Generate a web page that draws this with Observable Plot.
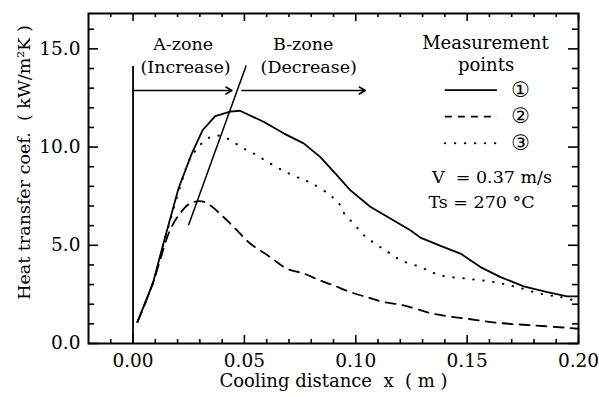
<!DOCTYPE html>
<html><head><meta charset="utf-8">
<script src="https://cdn.jsdelivr.net/npm/d3@7"></script>
<script src="https://cdn.jsdelivr.net/npm/@observablehq/plot@0.6"></script>
<style>body{margin:0;background:#fff} svg{display:block}</style>
</head><body><div id="chart"></div>
<script>
// Measurement point 1 (solid)
const p1x = [0.002,0.009,0.0136,0.0204,0.0264,0.0313,0.0369,0.0436,0.048,0.0586,0.0676,0.0766,0.084,0.0915,0.0975,0.1065,0.1155,0.1245,0.129,0.1395,0.147,0.156,0.165,0.1754,0.186,0.1949,0.2];
const p1y = [1.1,3.1,5.08,7.89,9.68,10.87,11.58,11.8,11.85,11.29,10.70,10.19,9.50,8.57,7.81,6.96,6.36,5.77,5.39,4.91,4.58,3.89,3.38,2.91,2.62,2.40,2.40];
// Measurement point 2 (dashed)
const p2x = [0.002,0.009,0.0121,0.0166,0.0211,0.0256,0.0309,0.0346,0.0406,0.0466,0.0526,0.0616,0.069,0.0766,0.084,0.090,0.0975,0.105,0.1125,0.1215,0.135,0.15,0.165,0.18,0.195,0.2];
const p2y = [1.1,3.1,4.23,5.77,6.62,7.13,7.24,7.04,6.44,5.77,5.09,4.40,3.81,3.56,3.21,2.96,2.62,2.36,2.11,1.94,1.51,1.26,1.04,0.92,0.80,0.75];
// Measurement point 3 (dotted)
const p3x = [0.002,0.009,0.0136,0.0204,0.0256,0.0289,0.0324,0.0369,0.0406,0.0451,0.0496,0.0541,0.0583,0.0668,0.0751,0.0803,0.0885,0.093,0.0953,0.099,0.1028,0.1065,0.111,0.1155,0.12,0.129,0.138,0.15,0.162,0.1724,0.183,0.192,0.2];
const p3y = [1.1,3.1,5.0,7.7,9.42,9.93,10.36,10.58,10.53,10.25,9.93,9.68,9.39,8.83,8.40,8.15,7.55,7.04,6.53,6.11,5.60,5.26,4.91,4.58,4.25,3.89,3.47,3.30,3.13,2.87,2.53,2.36,2.14];

// axes
const xDomain = [-0.02, 0.2];
const yDomain = [0, 16.8];
const xMajor = [0, 0.05, 0.10, 0.15, 0.20];
const xMinor = [-0.01,0.01,0.02,0.03,0.04,0.06,0.07,0.08,0.09,0.11,0.12,0.13,0.14,0.16,0.17,0.18,0.19];
const yMajor = [0, 5, 10, 15];
const yMinor = [1,2,3,4,6,7,8,9,11,12,13,14,16];

// labels
const xLabel = "Cooling distance\u00a0 x\u00a0 (\u00a0m\u00a0)";
const yLabel = "Heat transfer coef.\u00a0 (\u00a0kW/m\u00b2K\u00a0)";

// zone annotations
const zoneText = [
  {t:"A-zone", x:0.0225, y:15.25},
  {t:"(Increase)", x:0.0236, y:14.08},
  {t:"B-zone", x:0.0764, y:15.25},
  {t:"(Decrease)", x:0.0789, y:14.08}
];
const zoneStartLine = [{x:0, y1:0, y2:14.1}];
const boundaryLine = [{x1:0.0249, y1:6.02, x2:0.0508, y2:14.15}];
const zoneArrows = [
  {x1:0, x2:0.0444, y:12.88},
  {x1:0.0489, x2:0.1043, y:12.88}
];

// legend
const legendTitle = [{t:"Measurement", x:0.1582, y:15.3},{t:"points", x:0.1585, y:14.15}];
const legendNames = ["\u2460","\u2461","\u2462"];
const legendY = [12.9, 11.55, 10.2];
const legendX1 = 0.1402, legendX2 = 0.1636, legendTextX = 0.174;

// conditions
const condText = [{t:"V\u00a0\u00a0= 0.37 m/s", x:0.1342, y:8.47},{t:"Ts = 270 \u00b0C", x:0.1326, y:7.19}];

const W = 599, H = 397, mT = 13, mR = 21, mB = 54, mL = 88;
const series = (xs, ys) => xs.map((x, i) => ({x, y: ys[i]}));
const serif = "DejaVu Serif";

// inward tick lengths in pixels, converted to data units
const dxPerPx = (xDomain[1] - xDomain[0]) / (W - mL - mR);
const dyPerPx = (yDomain[1] - yDomain[0]) / (H - mT - mB);
const xTicks = (vals, len) => [
  Plot.ruleX(vals, {x: d => d, y1: yDomain[0], y2: yDomain[0] + len * dyPerPx, stroke: "#000", strokeWidth: 1.6}),
  Plot.ruleX(vals, {x: d => d, y1: yDomain[1] - len * dyPerPx, y2: yDomain[1], stroke: "#000", strokeWidth: 1.6})
];
const yTicks = (vals, len) => [
  Plot.ruleY(vals, {y: d => d, x1: xDomain[0], x2: xDomain[0] + len * dxPerPx, stroke: "#000", strokeWidth: 1.6}),
  Plot.ruleY(vals, {y: d => d, x1: xDomain[1] - len * dxPerPx, x2: xDomain[1], stroke: "#000", strokeWidth: 1.6})
];

const plot = Plot.plot({
  width: W, height: H,
  marginTop: mT, marginRight: mR, marginBottom: mB, marginLeft: mL,
  x: {domain: xDomain},
  y: {domain: yDomain},
  style: {fontFamily: serif, fontSize: "17px", background: "#fff", color: "#000"},
  marks: [
    // frame and inward ticks on all four sides
    Plot.frame({strokeWidth: 2}),
    ...xTicks(xMajor, 8),
    ...xTicks(xMinor, 4),
    ...yTicks(yMajor, 10),
    ...yTicks(yMinor, 6),
    // tick labels
    Plot.axisX({anchor:"bottom", ticks: xMajor, tickSize: 0, tickPadding: 10, tickFormat: d3.format(".2f"), label: null, fontSize: 18.5}),
    Plot.axisY({anchor:"left", ticks: yMajor, tickSize: 0, tickPadding: 8, tickFormat: d3.format(".1f"), label: null, fontSize: 18.5}),
    // axis titles
    Plot.text([xLabel], {text: d => d, frameAnchor: "bottom", lineAnchor: "middle", textAnchor: "middle", dy: 38, fontSize: 18}),
    Plot.text([yLabel], {text: d => d, frameAnchor: "left", lineAnchor: "middle", textAnchor: "middle", rotate: -90, dx: -64, dy: -16, fontSize: 17.5}),
    // curves
    Plot.line(series(p1x, p1y), {x: "x", y: "y", stroke: "#000", strokeWidth: 1.8}),
    Plot.line(series(p2x, p2y), {x: "x", y: "y", stroke: "#000", strokeWidth: 1.8, strokeDasharray: "10,7", curve: "catmull-rom"}),
    Plot.line(series(p3x, p3y), {x: "x", y: "y", stroke: "#000", strokeWidth: 2, strokeDasharray: "0.5,9.5", strokeLinecap: "round", curve: "catmull-rom"}),
    // annotations
    Plot.ruleX(zoneStartLine, {x: "x", y1: "y1", y2: "y2", stroke: "#000", strokeWidth: 1.8}),
    Plot.link(boundaryLine, {x1: "x1", y1: "y1", x2: "x2", y2: "y2", stroke: "#000", strokeWidth: 1.5}),
    Plot.arrow(zoneArrows, {x1: "x1", x2: "x2", y1: "y", y2: "y", stroke: "#000", strokeWidth: 1.5, headLength: 7}),
    Plot.text(zoneText, {x: "x", y: "y", text: "t", fontSize: 17.5}),
    // legend
    Plot.text(legendTitle, {x: "x", y: "y", text: "t", fontSize: 18}),
    Plot.ruleY([legendY[0]], {y: d => d, x1: legendX1, x2: legendX2, stroke: "#000", strokeWidth: 1.8}),
    Plot.ruleY([legendY[1]], {y: d => d, x1: legendX1, x2: legendX2, stroke: "#000", strokeWidth: 1.8, strokeDasharray: "7,6"}),
    Plot.ruleY([legendY[2]], {y: d => d, x1: legendX1, x2: legendX2, stroke: "#000", strokeWidth: 2, strokeDasharray: "0.5,9.5", strokeLinecap: "round"}),
    Plot.text(legendNames, {x: () => legendTextX, y: (d, i) => legendY[i], text: d => d, fontFamily: "DejaVu Sans", fontSize: 21}),
    Plot.text(condText, {x: "x", y: "y", text: "t", textAnchor: "start", fontSize: 17.5})
  ]
});
document.getElementById("chart").append(plot);
</script>
</body></html>
